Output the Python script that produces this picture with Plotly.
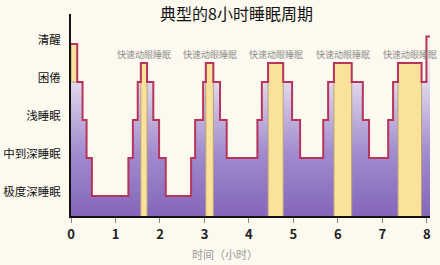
import plotly.graph_objects as go

# ---- data ----
REM_LEVEL = 4.5
tick_labels = ["清醒", "困倦", "浅睡眠", "中到深睡眠", "极度深睡眠"]
tick_values = [5, 4, 3, 2, 1]
x_ticks = [0, 1, 2, 3, 4, 5, 6, 7, 8]

# start time (hours) of each step and its level
seg_start = [0.00, 0.14, 0.26, 0.35, 0.47, 1.29, 1.39, 1.50, 1.57, 1.71, 1.85, 1.98,
             2.13, 2.70, 2.79, 2.97, 3.03, 3.20, 3.35, 3.50, 4.19, 4.29, 4.43, 4.77,
             4.97, 5.15, 5.67, 5.78, 5.91, 6.31, 6.56, 6.70, 7.13, 7.24, 7.35, 7.88,
             7.99]
seg_level = [5, 4, 3, 2, 1, 2, 3, 4, 4.5, 4, 3, 2,
             1, 2, 3, 4, 4.5, 4, 3, 2, 3, 4, 4.5, 4,
             3, 2, 3, 4, 4.5, 4, 3, 2, 3, 4, 4.5, 4,
             5.2]
end_time = 8.07

rem_label = "快速动眼睡眠"

# ---- derived ----
xs = seg_start + [end_time]
ys = seg_level + [seg_level[-1]]
seg_end = seg_start[1:] + [end_time]

Y0, Y1 = 0.47, 5.79

fig = go.Figure()

# gradient fill under the hypnogram
fig.add_trace(go.Scatter(
    x=xs, y=ys, mode="lines", line=dict(width=0, shape="hv"),
    fill="tozeroy",
    fillgradient=dict(type="vertical", start=Y0, stop=5.2,
                      colorscale=[[0, "#8466bb"], [0.35, "#a18bcd"],
                                  [0.6, "#c9bbe0"], [0.8, "#ebe3f0"], [1, "#faf3ee"]]),
    hoverinfo="skip", showlegend=False))

# yellow REM bars + initial wake
rx, ry = [], []
for s, e, lv in zip(seg_start, seg_end, seg_level):
    if lv == REM_LEVEL:
        rx += [s, s, e, e, s, None]
        ry += [Y0 - 0.2, lv, lv, Y0 - 0.2, Y0 - 0.2, None]
s, e, lv = seg_start[0], seg_end[0], seg_level[0]
rx += [s, s, e, e, s, None]
ry += [seg_level[1], lv, lv, seg_level[1], seg_level[1], None]
fig.add_trace(go.Scatter(
    x=rx, y=ry, mode="lines", fill="toself", fillcolor="#fbe29b",
    line=dict(color="#b3a27c", width=1), hoverinfo="skip", showlegend=False))

# step line
fig.add_trace(go.Scatter(
    x=xs, y=ys, mode="lines", line=dict(color="#b8345c", width=2, shape="hv"),
    hoverinfo="skip", showlegend=False))

# REM labels
for s, e, lv in zip(seg_start, seg_end, seg_level):
    if lv == REM_LEVEL:
        fig.add_annotation(x=(s + e) / 2, y=lv, text=rem_label, showarrow=False,
                           yanchor="bottom", yshift=0,
                           font=dict(size=9, color="#8c8c8c", family="Noto Sans CJK SC"))

fig.add_annotation(xref="paper", yref="paper", x=0.461, y=1.0, yshift=1,
                   text="典型的8小时睡眠周期",
                   showarrow=False, yanchor="middle",
                   font=dict(size=16, color="#111", family="Noto Sans CJK SC"))
fig.add_annotation(xref="paper", yref="paper", x=0.429, y=-0.188, text="时间（小时）",
                   showarrow=False, yanchor="middle",
                   font=dict(size=11, color="#9a9a9a", family="Noto Sans CJK SC"))

fig.update_layout(
    width=440, height=265,
    margin=dict(l=71, r=10, t=14, b=49, autoexpand=False),
    paper_bgcolor="#fcf9ef", plot_bgcolor="#fcf9ef",
    font=dict(family="Noto Sans CJK SC"),
    xaxis=dict(range=[0, end_time], tickvals=x_ticks, ticktext=[str(v) for v in x_ticks],
               showgrid=False, zeroline=False, showline=True, linecolor="#111", linewidth=2,
               ticks="outside", ticklen=5, tickcolor="#888", tickwidth=1, automargin=False,
               tickfont=dict(size=13, color="#222", weight="bold")),
    yaxis=dict(range=[Y0, Y1], tickvals=tick_values, ticktext=tick_labels,
               showgrid=False, zeroline=False, showline=True, linecolor="#111", linewidth=2,
               ticks="", ticklabelstandoff=6, ticklabelshift=-4, automargin=False,
               tickfont=dict(size=11.5, color="#111")),
)

fig.write_html("out.html")
